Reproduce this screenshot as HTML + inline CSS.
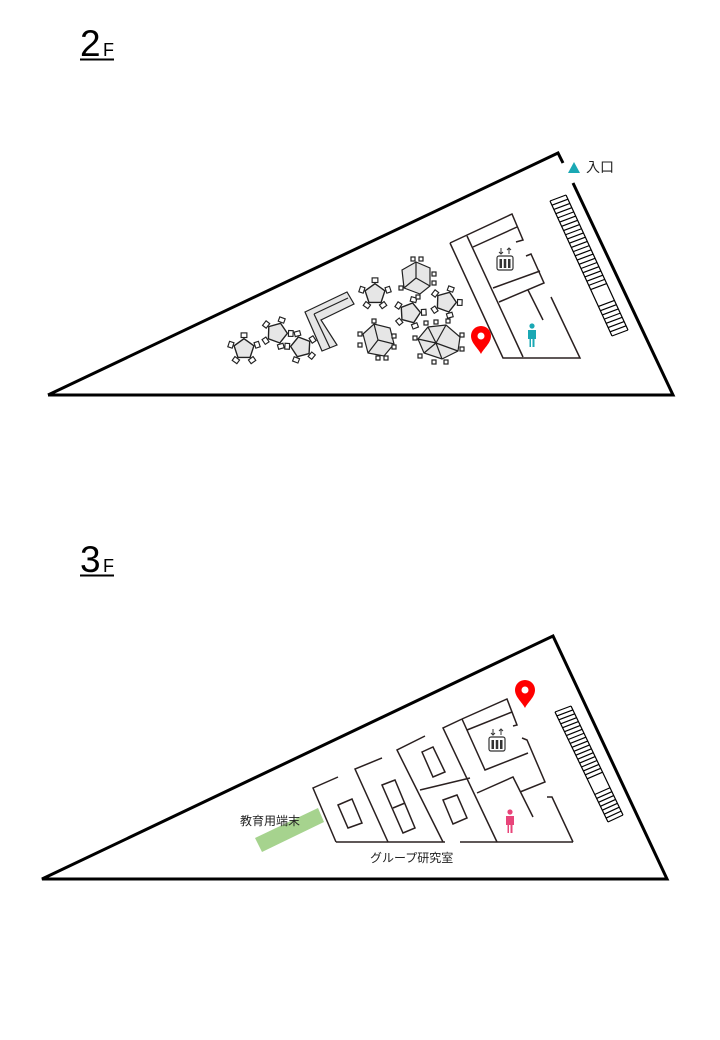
<!DOCTYPE html>
<html><head><meta charset="utf-8"><style>
body{margin:0;background:#fff;width:720px;height:1040px;overflow:hidden;font-family:"Liberation Sans","Noto Sans CJK JP",sans-serif}
svg{position:absolute;left:0;top:0}
</style></head><body>
<svg id="s" width="720" height="1040" viewBox="0 0 720 1040" xmlns="http://www.w3.org/2000/svg">
<defs>
<g id="chair"><rect x="-2.5" y="-2" width="5" height="4" fill="#fff" stroke="#222" stroke-width="1"/></g>
<g id="pent">
 <use href="#chair" transform="rotate(0) translate(0,-12)"/>
 <use href="#chair" transform="rotate(72) translate(0,-12)"/>
 <use href="#chair" transform="rotate(144) translate(0,-12)"/>
 <use href="#chair" transform="rotate(216) translate(0,-12)"/>
 <use href="#chair" transform="rotate(288) translate(0,-12)"/>
 <polygon points="0,-9 8.6,-2.8 5.3,7.3 -5.3,7.3 -8.6,-2.8" fill="#e6e6e6" stroke="#222" stroke-width="1.2"/>
</g>
<g id="elev">
 <rect x="-8" y="-7" width="16" height="14" rx="2" fill="#fff" stroke="#333" stroke-width="1.2"/>
 <rect x="-5.5" y="-4" width="2.5" height="9" fill="#333"/><rect x="-1.25" y="-4" width="2.5" height="9" fill="#333"/><rect x="3" y="-4" width="2.5" height="9" fill="#333"/>
 <path d="M-4,-15 v6 M-6,-11 l2,2 l2,-2 M4,-9 v-6 M2,-13 l2,-2 l2,2" stroke="#333" stroke-width="1" fill="none"/>
</g>
<g id="person"><circle cx="0" cy="-9" r="2.6"/><path d="M-4,-5 h8 v9 h-1.5 v8 h-2 v-8 h-1.5 v8 h-1.5 v-8 h-1.5z"/></g>
<g id="pin"><path d="M0,0 C-3,-6 -10,-11 -10,-18 A10,10 0 1 1 10,-18 C10,-11 3,-6 0,0z" fill="#f00"/><circle cx="0" cy="-18" r="3.5" fill="#fff"/></g>
</defs>

<text x="80" y="56" font-size="37" fill="#000">2</text><text x="103" y="56" font-size="18">F</text>
<rect x="80" y="58.5" width="34" height="2" fill="#000"/>
<text x="80" y="572" font-size="37" fill="#000">3</text><text x="103" y="572" font-size="18">F</text>
<rect x="80" y="574.5" width="34" height="2" fill="#000"/>

<g stroke="#000" stroke-width="3" fill="none">
<path d="M48,395 L558,153 L563,163"/>
<path d="M573,183 L673,395 L48,395"/>
<path d="M42,879 L553,636 L667,879 Z"/>
</g>
<polygon points="568,173 574,162 580,173" fill="#1aa8b4"/>
<text x="586" y="172" font-size="14" fill="#222">入口</text>

<g stroke="#2a2020" stroke-width="1.5" fill="none">
<path d="M450,243 L512,214 L523,240 L516,242"/>
<path d="M450,243 L503,358 L580,358 L551,297"/>
<path d="M467,236 L523,357"/>
<path d="M473,247 L517,227"/>
<path d="M526,256 L531,254 L544,283 L499,302"/>
<path d="M493,288 L540,271"/>
<path d="M528,290 L543,320"/>
</g>
<use href="#elev" transform="translate(505,263)"/>
<use href="#person" transform="translate(532,335)" fill="#1aa8b4"/>
<use href="#pin" transform="translate(481,354)"/>

<use href="#pent" transform="translate(244,349) scale(1.15)"/>
<use href="#pent" transform="translate(277,333) rotate(20) scale(1.15)"/>
<use href="#pent" transform="translate(301,347) rotate(-15) scale(1.15)"/>
<use href="#pent" transform="translate(375,294) scale(1.15)"/>
<use href="#pent" transform="translate(410,313) rotate(15) scale(1.15)"/>
<use href="#pent" transform="translate(446,302) rotate(20) scale(1.15)"/>
<polygon points="305,312 347,292 354,304 321,320 337,345 322,351" fill="#e6e6e6" stroke="#222" stroke-width="1.2"/>
<path d="M314,314 L348,298 M314,314 L330,348" stroke="#222" stroke-width="1.2" fill="none"/>
<g stroke="#222" stroke-width="1.2" fill="#e6e6e6">
 <g transform="translate(378,340)">
  <polygon points="-15,-6 -4,-16 12,-12 16,4 6,16 -10,13"/>
  <path d="M0,0 L-4,-16 M0,0 L16,4 M0,0 L-10,13" fill="none"/>
  <g fill="#fff"><rect x="-20" y="-8" width="4" height="4"/><rect x="-20" y="3" width="4" height="4"/><rect x="-6" y="-21" width="4" height="4"/><rect x="14" y="-6" width="4" height="4"/><rect x="14" y="5" width="4" height="4"/><rect x="-2" y="16" width="4" height="4"/><rect x="6" y="16" width="4" height="4"/></g>
 </g>
 <g transform="translate(416,278)">
  <polygon points="-14,-8 0,-16 14,-10 14,8 4,16 -12,10"/>
  <path d="M0,0 L0,-16 M0,0 L14,8 M0,0 L-12,10" fill="none"/>
  <g fill="#fff"><rect x="-5" y="-21" width="4" height="4"/><rect x="3" y="-21" width="4" height="4"/><rect x="16" y="-6" width="4" height="4"/><rect x="16" y="3" width="4" height="4"/><rect x="-17" y="8" width="4" height="4"/><rect x="0" y="17" width="4" height="4"/></g>
 </g>
 <g transform="translate(438,341)">
  <polygon points="-20,-2 -10,-14 8,-16 22,-4 20,10 4,18 -14,12"/>
  <path d="M-10,-14 L-2,2 L8,-16 M-2,2 L20,10 M-2,2 L-20,-2 M-2,2 L4,18 M-2,2 L-14,12" fill="none"/>
  <g fill="#fff"><rect x="-25" y="-5" width="4" height="4"/><rect x="-14" y="-20" width="4" height="4"/><rect x="-4" y="-21" width="4" height="4"/><rect x="8" y="-22" width="4" height="4"/><rect x="22" y="-8" width="4" height="4"/><rect x="22" y="6" width="4" height="4"/><rect x="6" y="19" width="4" height="4"/><rect x="-6" y="19" width="4" height="4"/><rect x="-20" y="13" width="4" height="4"/></g>
 </g>
</g>

<g stroke="#2a2020" stroke-width="1.5" fill="none">
<path d="M336,842 L445,842 M460,842 L573,842"/>
<path d="M338,777 L313,788 L336,842"/>
<path d="M382,758 L355,769 L388,842"/>
<path d="M425,736 L397,750 L443,842"/>
<path d="M420,790 L470,778"/>
<path d="M462,719 L443,728 L497,842"/>
<path d="M462,719 L507,699 L517,725 L513,726"/>
<path d="M467,730 L512,712"/>
<path d="M462,719 L485,770 L528,753"/>
<path d="M522,738 L527,740 L545,782 L520,792"/>
<path d="M477,793 L513,777 L533,817"/>
<path d="M547,797 L552,797 L573,842"/>
<polygon points="338,805 352,799 362,823 348,828"/>
<polygon points="422,752 433,747 445,772 433,777"/>
<polygon points="382,785 395,780 415,828 403,833"/>
<path d="M393,808 L405,803"/>
<polygon points="443,800 457,795 467,818 453,824"/>
</g>
<use href="#elev" transform="translate(497,744)"/>
<use href="#person" transform="translate(510,821)" fill="#e8457a"/>
<use href="#pin" transform="translate(525,708)"/>
<polygon points="255,838 318,808 324,822 262,852" fill="#a6d38e"/>
<text x="240" y="825" font-size="12" fill="#222">教育用端末</text>
<text x="370" y="862" font-size="12" fill="#222">グループ研究室</text>

<g id="stairs" stroke="#000" stroke-width="1.2" fill="none"></g>
</svg>
<script>
function stairs(a,b,c,d,gapS,gapE,n){
  var g=document.getElementById('stairs'),ns='http://www.w3.org/2000/svg';
  function ln(x1,y1,x2,y2){var l=document.createElementNS(ns,'line');l.setAttribute('x1',x1);l.setAttribute('y1',y1);l.setAttribute('x2',x2);l.setAttribute('y2',y2);g.appendChild(l);}
  ln(a[0],a[1],c[0],c[1]);ln(b[0],b[1],d[0],d[1]);ln(a[0],a[1],b[0],b[1]);ln(c[0],c[1],d[0],d[1]);
  for(var i=1;i<n;i++){var t=i/n;if(t>gapS&&t<gapE)continue;
    ln(a[0]+(c[0]-a[0])*t,a[1]+(c[1]-a[1])*t,b[0]+(d[0]-b[0])*t,b[1]+(d[1]-b[1])*t);}
}
stairs([550,201],[566,195],[612,336],[628,330],0.68,0.77,32);
stairs([555,712],[571,706],[608,822],[623,815],0.62,0.74,28);
</script>
</body></html>
